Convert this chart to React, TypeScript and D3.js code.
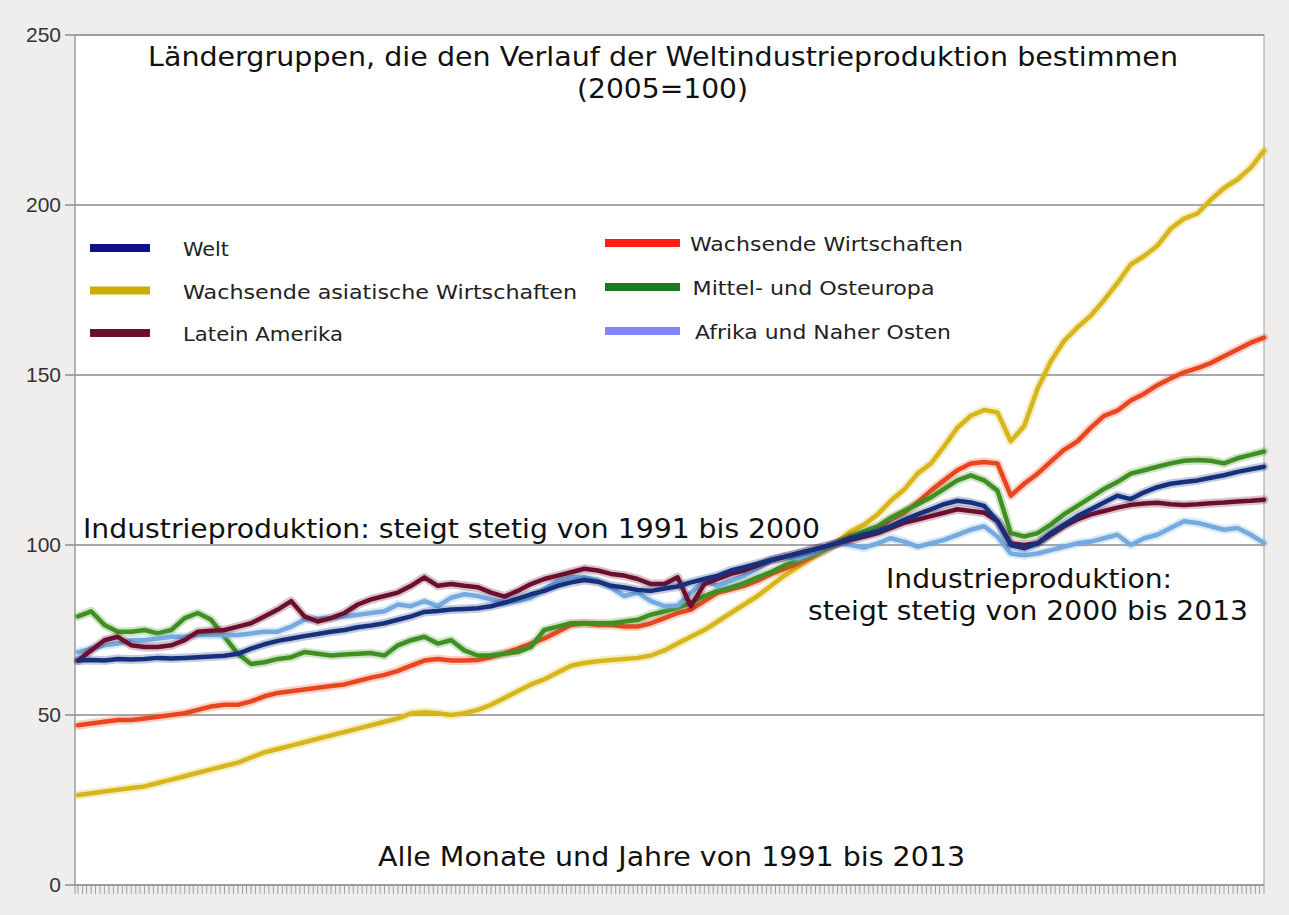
import React, { useEffect } from "react";
import * as d3 from "d3";

// quarterly readings, Jan 1991 .. Apr 2013 (2005 = 100)
const quarters = d3.timeMonth.range(new Date(1991, 0, 1), new Date(2013, 4, 1), 3);

const welt = [66, 66.2, 66, 66.5, 66.3, 66.5, 66.8, 66.6, 66.8, 67, 67.2, 67.4, 68, 69.5, 70.8, 71.8, 72.5, 73.2, 73.8, 74.5,
  75, 75.8, 76.3, 77, 78, 79, 80.3, 80.6, 81, 81.2, 81.4, 82, 83, 84.2, 85.5, 86.5, 88, 89, 89.7, 89.2,
  88, 87.5, 86.8, 86.5, 87.2, 87.8, 89, 90, 91, 92.5, 93.5, 94.5, 95.6, 96.5, 97.5, 98.5, 99.5, 100.6, 102, 103,
  104, 105.5, 107.4, 109, 110.5, 112, 113, 112.5, 111.5, 107, 100, 99, 100.5, 103.5, 106, 108.5, 110.5, 112.5, 114.5, 113.5,
  115.5, 117, 118, 118.5, 119, 119.8, 120.5, 121.5, 122.3, 123];

const asien = [26.5, 27, 27.5, 28, 28.5, 29, 30, 31, 32, 33, 34, 35, 36, 37.5, 39, 40, 41, 42, 43, 44,
  45, 46, 47, 48, 49, 50.5, 50.8, 50.5, 50, 50.5, 51.5, 53, 55, 57, 59, 60.5, 62.5, 64.5, 65.3, 65.8,
  66.2, 66.5, 66.8, 67.5, 69, 71, 73, 75, 77.5, 80, 82.5, 85, 88, 91, 93.5, 96, 98.5, 101, 104, 106,
  109, 113, 116.3, 121, 124, 129, 134.5, 138, 139.7, 139, 130.5, 135, 146, 154, 160, 164, 167.5, 172, 177, 182.5,
  185, 188, 193, 196, 197.5, 201.5, 205, 207.5, 211, 216];

const lateinAmerika = [66, 69, 72, 73, 70.5, 70, 70, 70.5, 72, 74.5, 74.8, 75, 76, 77, 79, 81, 83.5, 79, 77.5, 78.5,
  80, 82.5, 84, 85, 86, 88, 90.5, 88, 88.5, 88, 87.6, 86, 84.8, 86.5, 88.5, 90, 91, 92, 93, 92.5,
  91.5, 91, 90, 88.5, 88.5, 90.5, 82, 88.5, 90, 91.5, 92.5, 94, 95.5, 96.5, 97.5, 98.5, 99.5, 100.5, 101.5, 102.5,
  103.5, 105, 106.5, 107.5, 108.5, 109.5, 110.5, 110, 109.5, 107, 100.5, 100, 100.5, 103, 105.5, 107.5, 109, 110, 111, 111.8,
  112.2, 112.4, 112, 111.8, 112, 112.3, 112.5, 112.8, 113, 113.3];

const wachsende = [47, 47.5, 48, 48.5, 48.5, 49, 49.5, 50, 50.5, 51.5, 52.5, 53, 53, 54, 55.5, 56.5, 57, 57.5, 58, 58.5,
  59, 60, 61, 61.8, 63, 64.5, 66, 66.5, 66, 66, 66.2, 67, 68.2, 69.5, 71, 72.5, 74.5, 76.5, 77, 76.5,
  76.5, 76, 76, 77, 78.5, 80, 81, 83.5, 86, 87, 88, 89.5, 91.5, 93, 94.5, 96.5, 98.5, 100.5, 102.5, 103.5,
  105, 107.5, 109.5, 112.5, 116, 119, 122, 124, 124.4, 124, 114.5, 118, 121, 124.5, 128, 130.5, 134.5, 138, 139.5, 142.5,
  144.5, 147, 149, 150.8, 152, 153.5, 155.5, 157.5, 159.5, 161];

const osteuropa = [79, 80.5, 76.5, 74.5, 74.5, 75, 74, 75, 78.5, 80, 78, 73, 68, 65, 65.5, 66.5, 67, 68.5, 68, 67.5,
  67.8, 68, 68.2, 67.5, 70.5, 72, 73, 71, 72, 69, 67.5, 67.6, 68, 68.5, 70, 75, 76, 77, 77, 77,
  77, 77.5, 78, 79.5, 80.5, 81.5, 83, 85, 86.5, 87.5, 88.8, 90.5, 92, 94, 95.5, 97, 98.5, 100.5, 102.5, 104,
  105.5, 108, 110, 112, 114, 116.5, 119, 120.5, 119, 116, 103.5, 102.5, 103.5, 106, 109, 111.5, 114, 116.5, 118.5, 121,
  122, 123, 124, 124.8, 125, 124.8, 124, 125.5, 126.5, 127.5];

const afrika = [68.5, 69.5, 70.5, 71, 72, 72, 72.5, 73, 73, 73.5, 73.5, 73.5, 73.5, 74, 74.5, 74.5, 76, 78, 78.3, 78.5,
  79, 79.5, 80, 80.5, 82.5, 82, 83.5, 82, 84.5, 85.5, 85, 84, 83, 83.5, 84.5, 87, 89.5, 90.5, 90.5, 89.5,
  87.5, 85, 86, 83.5, 82, 82.2, 86, 89.5, 88, 89.5, 91, 93, 95.5, 96.5, 96, 97.5, 99, 100.5, 100, 99.2,
  100.5, 102, 101, 99.5, 100.5, 101.5, 103, 104.5, 105.5, 102.5, 97.5, 97, 97.5, 98.5, 99.5, 100.5, 101, 102, 103, 100,
  102, 103, 105, 107, 106.5, 105.5, 104.5, 105, 103, 100.6];

const yTicks = [0, 50, 100, 150, 200, 250];

const series = [
  { name: "Wachsende asiatische Wirtschaften", values: asien, color: "#d6b61a", legend: "#c9b000" },
  { name: "Wachsende Wirtschaften", values: wachsende, color: "#e8461e", legend: "#ff1e10" },
  { name: "Mittel- und Osteuropa", values: osteuropa, color: "#3f8f22", legend: "#1e7a1e" },
  { name: "Afrika und Naher Osten", values: afrika, color: "#74aadf", legend: "#8484ff" },
  { name: "Latein Amerika", values: lateinAmerika, color: "#6a0f2e", legend: "#6a0f2e" },
  { name: "Welt", values: welt, color: "#16307c", legend: "#10128a" },
];

// [name, text width in px]
const legendLeft: [string, number][] = [["Welt", 46], ["Wachsende asiatische Wirtschaften", 394], ["Latein Amerika", 160]];
const legendRight: [string, number][] = [["Wachsende Wirtschaften", 273], ["Mittel- und Osteuropa", 242], ["Afrika und Naher Osten", 256]];

export default function App() {
  useEffect(() => {
    document.body.style.margin = "0";
  }, []);

  const W = 1289, H = 915;
  const left = 75, right = 1264, top = 35, bottom = 885;

  const x = d3.scaleTime()
    .domain([quarters[0], quarters[quarters.length - 1]])
    .range([78, right]);
  const y = d3.scaleLinear().domain([0, 250]).range([bottom, top]);

  const monthTicks = d3.timeMonth.range(quarters[0], d3.timeMonth.offset(quarters[quarters.length - 1], 1));

  const line = d3.line<number>()
    .x((d, i) => x(quarters[i]))
    .y(d => y(d));

  const byName = (n: string) => series.find(s => s.name === n)!;
  const font = "'DejaVu Sans', sans-serif";

  return (
    <svg width={W} height={H} style={{ display: "block" }}>
      <rect width={W} height={H} fill="#efeeec" />
      <rect x={left} y={top} width={right - left} height={bottom - top} fill="#ffffff" stroke="#a0a0a0" />

      {yTicks.map(t => (
        <g key={t}>
          <line x1={left - 10} x2={right} y1={y(t)} y2={y(t)} stroke="#8c8c8c" strokeWidth={1.3} />
          <text x={61} y={y(t) + 7} textAnchor="end" fontSize={21} fill="#333"
            fontFamily="'Liberation Sans', Arial, sans-serif">{t}</text>
        </g>
      ))}

      {monthTicks.map((m, i) => (
        <line key={i} x1={x(m)} x2={x(m)} y1={bottom} y2={bottom + 9} stroke="#999" strokeWidth={0.9} />
      ))}
      <line x1={left} x2={left} y1={top} y2={bottom + 9} stroke="#999" />

      {series.map(s => (
        <g key={s.name}>
          <path d={line(s.values) || ""} fill="none" stroke={s.color} strokeOpacity={0.25} strokeWidth={9}
            strokeLinejoin="round" strokeLinecap="round" />
          <path d={line(s.values) || ""} fill="none" stroke={s.color} strokeWidth={4.5}
            strokeLinejoin="round" strokeLinecap="round" />
        </g>
      ))}

      <text x={148} y={66} fontSize={27} fontFamily={font} fill="#111" textLength={1030} lengthAdjust="spacingAndGlyphs">
        Ländergruppen, die den Verlauf der Weltindustrieproduktion bestimmen
      </text>
      <text x={577} y={98} fontSize={27} fontFamily={font} fill="#111" textLength={171} lengthAdjust="spacingAndGlyphs">(2005=100)</text>

      {legendLeft.map(([n, w], i) => (
        <g key={n}>
          <line x1={90} x2={150} y1={248 + i * 42.5} y2={248 + i * 42.5} stroke={byName(n).legend} strokeWidth={8} />
          <text x={183} y={256 + i * 42.5} fontSize={20} fontFamily={font} fill="#222"
            textLength={w} lengthAdjust="spacingAndGlyphs">{n}</text>
        </g>
      ))}
      {legendRight.map(([n, w], i) => (
        <g key={n}>
          <line x1={605} x2={680} y1={243 + i * 44} y2={243 + i * 44} stroke={byName(n).legend} strokeWidth={8} />
          <text x={690 + i * 2.5} y={251 + i * 44} fontSize={20} fontFamily={font} fill="#222"
            textLength={w} lengthAdjust="spacingAndGlyphs">{n}</text>
        </g>
      ))}

      <text x={83} y={538} fontSize={27} fontFamily={font} fill="#111" textLength={737} lengthAdjust="spacingAndGlyphs">
        Industrieproduktion: steigt stetig von 1991 bis 2000
      </text>
      <text x={886} y={588} fontSize={27} fontFamily={font} fill="#111" textLength={286} lengthAdjust="spacingAndGlyphs">
        Industrieproduktion:
      </text>
      <text x={808} y={620} fontSize={27} fontFamily={font} fill="#111" textLength={440} lengthAdjust="spacingAndGlyphs">
        steigt stetig von 2000 bis 2013
      </text>
      <text x={378} y={866} fontSize={27} fontFamily={font} fill="#111" textLength={587} lengthAdjust="spacingAndGlyphs">
        Alle Monate und Jahre von 1991 bis 2013
      </text>
    </svg>
  );
}
